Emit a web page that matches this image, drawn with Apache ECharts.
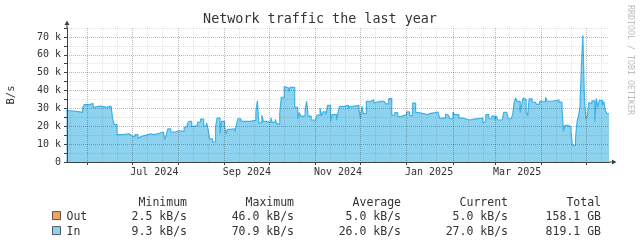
<!DOCTYPE html>
<html><head><meta charset="utf-8">
<script src="https://cdn.jsdelivr.net/npm/echarts@6/dist/echarts.min.js"></script>
<style>html,body{margin:0;padding:0;background:#fff}#c{width:640px;height:244px}</style>
</head><body><div id="c"></div>
<script>
const chartTitle = 'Network traffic the last year';
const yAxisName = 'B/s';
const watermark = 'RRDTOOL / TOBI OETIKER';
const rangeStart = '2024-05-18 12:00';
const rangeEnd = '2025-05-16 12:00';
const xTickLabels = ['Jul 2024', 'Sep 2024', 'Nov 2024', 'Jan 2025', 'Mar 2025'];
const xTickLabelDates = ['2024-07-16', '2024-09-16', '2024-11-16', '2025-01-16', '2025-03-16'];
const yMax = 75000;

const inDates = [
'2024-05-18','2024-05-20','2024-05-25','2024-05-29','2024-05-30','2024-06-03','2024-06-05','2024-06-06','2024-06-10','2024-06-14',
'2024-06-17','2024-06-18','2024-06-19','2024-06-21','2024-06-25','2024-06-29','2024-07-01','2024-07-03','2024-07-05','2024-07-06',
'2024-07-07','2024-07-10','2024-07-13','2024-07-14','2024-07-16','2024-07-20','2024-07-22','2024-07-23','2024-07-24','2024-07-25',
'2024-07-27','2024-07-30','2024-08-01','2024-08-05','2024-08-07','2024-08-08','2024-08-10','2024-08-12','2024-08-14','2024-08-16',
'2024-08-18','2024-08-20','2024-08-21','2024-08-22','2024-08-24','2024-08-26','2024-08-27','2024-08-29','2024-08-30','2024-09-01',
'2024-09-02','2024-09-03','2024-09-05','2024-09-06','2024-09-08','2024-09-09','2024-09-10','2024-09-12','2024-09-18','2024-09-22',
'2024-09-23','2024-09-24','2024-09-26','2024-09-27','2024-09-29','2024-09-30','2024-10-02','2024-10-03','2024-10-05','2024-10-06',
'2024-10-08','2024-10-09','2024-10-11','2024-10-12','2024-10-14','2024-10-15','2024-10-18','2024-10-20','2024-10-21','2024-10-22',
'2024-10-25','2024-10-26','2024-10-27','2024-10-29','2024-11-01','2024-11-02','2024-11-04','2024-11-05','2024-11-06','2024-11-08',
'2024-11-09','2024-11-11','2024-11-12','2024-11-15','2024-11-16','2024-11-17','2024-11-20','2024-11-23','2024-11-24','2024-11-26',
'2024-11-30','2024-12-01','2024-12-02','2024-12-03','2024-12-05','2024-12-08','2024-12-10','2024-12-11','2024-12-14','2024-12-15',
'2024-12-17','2024-12-18','2024-12-20','2024-12-22','2024-12-24','2024-12-26','2024-12-28','2025-01-01','2025-01-03','2025-01-05',
'2025-01-07','2025-01-09','2025-01-15','2025-01-17','2025-01-20','2025-01-22','2025-01-23','2025-01-27','2025-01-28','2025-01-29',
'2025-01-30','2025-02-01','2025-02-02','2025-02-05','2025-02-08','2025-02-09','2025-02-10','2025-02-11','2025-02-12','2025-02-15',
'2025-02-21','2025-02-22','2025-02-23','2025-02-25','2025-02-27','2025-03-01','2025-03-02','2025-03-03','2025-03-06','2025-03-07',
'2025-03-09','2025-03-10','2025-03-12','2025-03-13','2025-03-14','2025-03-15','2025-03-16','2025-03-18','2025-03-19','2025-03-20',
'2025-03-21','2025-03-22','2025-03-23','2025-03-24','2025-03-26','2025-03-28','2025-03-29','2025-03-31','2025-04-02','2025-04-04',
'2025-04-05','2025-04-08','2025-04-13','2025-04-15','2025-04-16','2025-04-17','2025-04-19','2025-04-20','2025-04-21','2025-04-22',
'2025-04-24','2025-04-25','2025-04-26','2025-04-27','2025-04-28','2025-04-29','2025-04-30','2025-05-01','2025-05-02','2025-05-03',
'2025-05-04','2025-05-05','2025-05-07','2025-05-08','2025-05-09','2025-05-10','2025-05-12','2025-05-13','2025-05-14','2025-05-15',
'2025-05-16 12:00'
];
const inValues = [
28700,28300,27800,30200,32100,32800,30600,31300,30600,31300,
30800,24600,20900,15300,15800,14700,14000,15300,13200,14200,
14900,15700,16600,15300,16200,16800,15700,12500,15300,18500,
16800,17500,17100,19600,21300,22700,19900,20900,22400,24000,
20300,21900,18100,12900,11200,19600,24600,15700,22700,19900,
15700,18300,17700,18600,16800,20900,24200,22700,23300,28000,
34300,21900,26200,22700,23500,22200,24600,22200,23800,21300,
27100,36200,42200,41400,39500,41800,30600,24200,27600,25700,
29400,33900,25700,23500,24600,26200,30200,25700,28000,26500,
31700,22700,26500,23500,27600,31100,31700,29800,31100,31700,
29800,24200,31100,27100,33900,34900,33000,33900,33400,33900,
34700,32500,35500,26200,27600,25400,26500,28000,26000,33000,
27600,26500,27200,27600,28000,27200,24600,26900,26200,25400,
24200,28000,26500,24600,25500,24000,24600,23500,24000,24600,
21900,22700,26500,24200,25700,23500,25700,23500,24600,27800,
26900,24200,24900,26500,33500,35800,33900,27600,32100,35800,
35000,28000,25700,35300,33500,32900,32300,34000,33800,36200,
34000,34700,33500,30200,17100,20500,19400,19700,17100,9300,
12500,21900,25700,30200,53500,70900,36700,24000,25700,33300,
32600,34200,22700,35500,30800,34500,31700,33900,29100,27000,
27000
];

const statHeaders = ['Minimum', 'Maximum', 'Average', 'Current', 'Total'];
const seriesNames = ['Out', 'In'];
const seriesColors = ['#f2a35e', '#8dd3f0'];
const outStats = ['2.5 kB/s', '46.0 kB/s', '5.0 kB/s', '5.0 kB/s', '158.1 GB'];
const inStats = ['9.3 kB/s', '70.9 kB/s', '26.0 kB/s', '27.0 kB/s', '819.1 GB'];

const FONT = 'DejaVu Sans Mono';
const TXT = '#333';
const AXIS = '#404040';
const MAJOR = 'rgba(0,0,0,0.27)';
const MINOR = 'rgba(0,0,0,0.11)';

function parseLocal(s) {
  const m = s.match(/(\d+)-(\d+)-(\d+)(?: (\d+):(\d+))?/);
  return new Date(+m[1], +m[2] - 1, +m[3], +(m[4] || 0), +(m[5] || 0));
}
const pad = n => (n < 10 ? '0' : '') + n;
const keyOf = d => d.getFullYear() + '-' + pad(d.getMonth() + 1) + '-' + pad(d.getDate()) + ' ' + pad(d.getHours());

const t0 = parseLocal(rangeStart), t1 = parseLocal(rangeEnd);
const cats = [], catDates = [];
for (let k = 0; ; k++) {
  const d = new Date(t0.getFullYear(), t0.getMonth(), t0.getDate(), t0.getHours() + 12 * k);
  if (d.getTime() > t1.getTime()) break;
  catDates.push(d); cats.push(keyOf(d));
}
const labelMap = {};
xTickLabelDates.forEach((s, i) => { labelMap[keyOf(parseLocal(s))] = xTickLabels[i]; });
const isMajor = i => catDates[i].getHours() === 0 && catDates[i].getDate() === 1;
const isMinor = i => catDates[i].getHours() === 0 && (catDates[i].getDate() === 11 || catDates[i].getDate() === 21);

const arrow = 'path://M2.5,0 L5,4.5 L3,4.5 L3,7.5 L2,7.5 L2,4.5 L0,4.5 Z';

const chart = echarts.init(document.getElementById('c'), null, { renderer: 'canvas' });

const colRight = [187, 294, 401, 508, 601];
const graphics = [
  { type: 'text', x: 320, y: 19.5, style: { text: chartTitle, font: '13.4px "' + FONT + '"', fill: TXT, align: 'center', verticalAlign: 'middle' } },
  { type: 'text', x: 630.5, y: 60, rotation: -Math.PI / 2, style: { text: watermark, font: '8.3px "' + FONT + '"', fill: '#bdbdbd', align: 'center', verticalAlign: 'middle' } },
  { type: 'text', x: 11, y: 95, rotation: Math.PI / 2, style: { text: yAxisName, font: '10.5px "' + FONT + '"', fill: TXT, align: 'center', verticalAlign: 'middle' } }
];
statHeaders.forEach((h, i) => graphics.push({ type: 'text', x: colRight[i], y: 203.3, style: { text: h, font: '11.5px "' + FONT + '"', fill: TXT, align: 'right', verticalAlign: 'middle' } }));
[outStats, inStats].forEach((row, r) => {
  const y = 216.6 + r * 15;
  graphics.push({ type: 'rect', shape: { x: 52.5, y: y - 5, width: 8, height: 8 }, style: { fill: seriesColors[r], stroke: '#555', lineWidth: 1 } });
  graphics.push({ type: 'text', x: 66.5, y: y, style: { text: seriesNames[r], font: '11.5px "' + FONT + '"', fill: TXT, align: 'left', verticalAlign: 'middle' } });
  row.forEach((v, i) => graphics.push({ type: 'text', x: colRight[i], y: y, style: { text: v, font: '11.5px "' + FONT + '"', fill: TXT, align: 'right', verticalAlign: 'middle' } }));
});

const catAxisBase = {
  type: 'category', data: cats, boundaryGap: false, position: 'bottom', z: 3
};

chart.setOption({
  animation: false,
  backgroundColor: '#fff',
  grid: { left: 67, top: 28, width: 542, height: 134, containLabel: false },
  xAxis: [
    { type: 'time', min: t0.getTime(), max: t1.getTime(), show: false, position: 'bottom' },
    Object.assign({}, catAxisBase, {
      axisLine: { show: true, lineStyle: { color: AXIS, width: 1 }, symbol: ['none', arrow], symbolSize: [5, 7.5], symbolOffset: [0, 3.75] },
      axisTick: { show: true, length: 3, interval: (i) => isMajor(i), lineStyle: { color: AXIS } },
      axisLabel: { show: true, interval: (i) => labelMap[cats[i]] !== undefined, formatter: (v) => labelMap[v] || '', color: TXT, fontFamily: FONT, fontSize: 10, margin: 5, hideOverlap: false },
      splitLine: { show: true, interval: (i) => isMajor(i), lineStyle: { color: MAJOR, width: 1, type: [1, 1] } }
    }),
    Object.assign({}, catAxisBase, {
      axisLine: { show: false }, axisTick: { show: false }, axisLabel: { show: false },
      splitLine: { show: true, interval: (i) => isMinor(i), lineStyle: { color: MINOR, width: 1, type: [1, 1] } }
    })
  ],
  yAxis: {
    type: 'value', min: 0, max: yMax, interval: 5000, z: 3,
    axisLine: { show: true, lineStyle: { color: AXIS, width: 1 }, symbol: ['none', arrow], symbolSize: [5, 7.5], symbolOffset: [0, 3.75] },
    axisTick: { show: true, length: 3, lineStyle: { color: AXIS } },
    axisLabel: { color: TXT, fontFamily: FONT, fontSize: 10, margin: 6,
      formatter: (v) => v % 10000 === 0 ? (v === 0 ? '0' : (v / 1000) + ' k') : '' },
    splitLine: { show: true, lineStyle: { color: [MAJOR, MINOR], width: 1, type: [1, 1] } }
  },
  series: [{
    name: seriesNames[1], type: 'line', xAxisIndex: 0, yAxisIndex: 0, step: 'end',
    symbol: 'none', showSymbol: false,
    data: inDates.map((s, i) => [parseLocal(s).getTime(), inValues[i]]),
    lineStyle: { color: '#3fb2e6', width: 1.2 },
    areaStyle: { color: seriesColors[1], opacity: 1 },
    z: 2
  }],
  graphic: graphics
});
</script></body></html>
